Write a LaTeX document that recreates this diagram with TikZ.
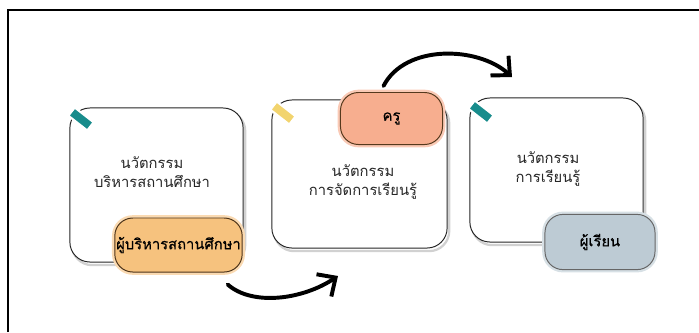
\documentclass[tikz,border=0pt]{standalone}
\usepackage{fontspec}
\newfontfamily\thaifont[Script=Thai]{Loma}
\newfontfamily\thaimid[Script=Thai, UprightFeatures={FakeBold=0.6}]{Loma}
\usetikzlibrary{arrows.meta, shadows}

\begin{document}
\begin{tikzpicture}[x=0.025cm, y=-0.025cm,
    card/.style={draw=black!85, line width=0.7pt, fill=white, rounded corners=0.5cm,
      general shadow={draw=black!18, line width=1.6pt, shadow xshift=1.5pt, shadow yshift=-2.2pt}},
    tape/.style={fill=#1, draw=white, line width=1.5pt, minimum width=0.6cm, minimum height=0.26cm, inner sep=0pt, rotate=-38},
    title/.style={align=center, text=black!85, font=\thaifont\fontsize{10.5}{14}\selectfont},
    role/.style n args={3}{fill=#1, draw=#2, preaction={draw=#3, line width=4pt},
      rounded corners=0.45cm, line width=0.7pt, inner sep=1pt,
      font=\thaimid\fontsize{10.5}{13}\selectfont},
    flow/.style={line width=2.8pt, line cap=round,
      -{Straight Barb[length=10pt, width=19pt, line width=2.8pt]}}]
    \colorlet{teal}{rgb,255:red,24;green,140;blue,140}
    \colorlet{sun}{rgb,255:red,242;green,212;blue,110}
    \colorlet{head}{rgb,255:red,246;green,194;blue,126}
    \colorlet{teach}{rgb,255:red,247;green,174;blue,143}
    \colorlet{learn}{rgb,255:red,189;green,203;blue,212}
    \useasboundingbox (0,0) rectangle (699,332);

    % frame
    \draw[line width=2pt] (8,332) -- (8,10) -- (699,10);

    % cards
    \node[card, minimum width=4.33cm, minimum height=3.85cm] (admin) at (156.5,185) {};
    \node[card, minimum width=4.38cm, minimum height=3.7cm]  (teaching) at (359.5,174) {};
    \node[card, minimum width=4.33cm, minimum height=3.6cm]  (learning) at (556.5,170) {};

    \node[tape=teal] (tape1) at (81,119) {};
    \node[tape=sun]  (tape2) at (283,113) {};
    \node[tape=teal] (tape3) at (481,112) {};

    \node[title] (admintext) at (152,172) {นวัตกรรม\\บริหารสถานศึกษา};
    \node[title] (teachtext) at (363,182) {นวัตกรรม\\การจัดการเรียนรู้};
    \node[title] (learntext) at (548,169) {นวัตกรรม\\การเรียนรู้};

    % roles
    \node[role={head}{black!60!brown}{head!60!white}, minimum width=2.95cm, minimum height=1.35cm]
        (director) at (178.5,245) {ผู้บริหารสถานศึกษา};
    \node[role={teach}{black!55!brown}{teach!65!white}, minimum width=2.55cm, minimum height=1.3cm]
        (teacher) at (391.5,118.5) {ครู};
    \node[role={learn}{black!60}{learn!60!white}, minimum width=2.75cm, minimum height=1.38cm]
        (student) at (600,242) {ผู้เรียน};

    \coordinate (toteach) at (338,276);
    \coordinate (tolearn) at (512,77);
    \draw[flow] ([shift={(-15,12)}]director.south east) .. controls (252,306) and (302,300) .. (toteach);
    \draw[flow] ([shift={(-8,-6)}]teacher.north) .. controls (405,44) and (478,46) .. (tolearn);
\end{tikzpicture}
\end{document}
